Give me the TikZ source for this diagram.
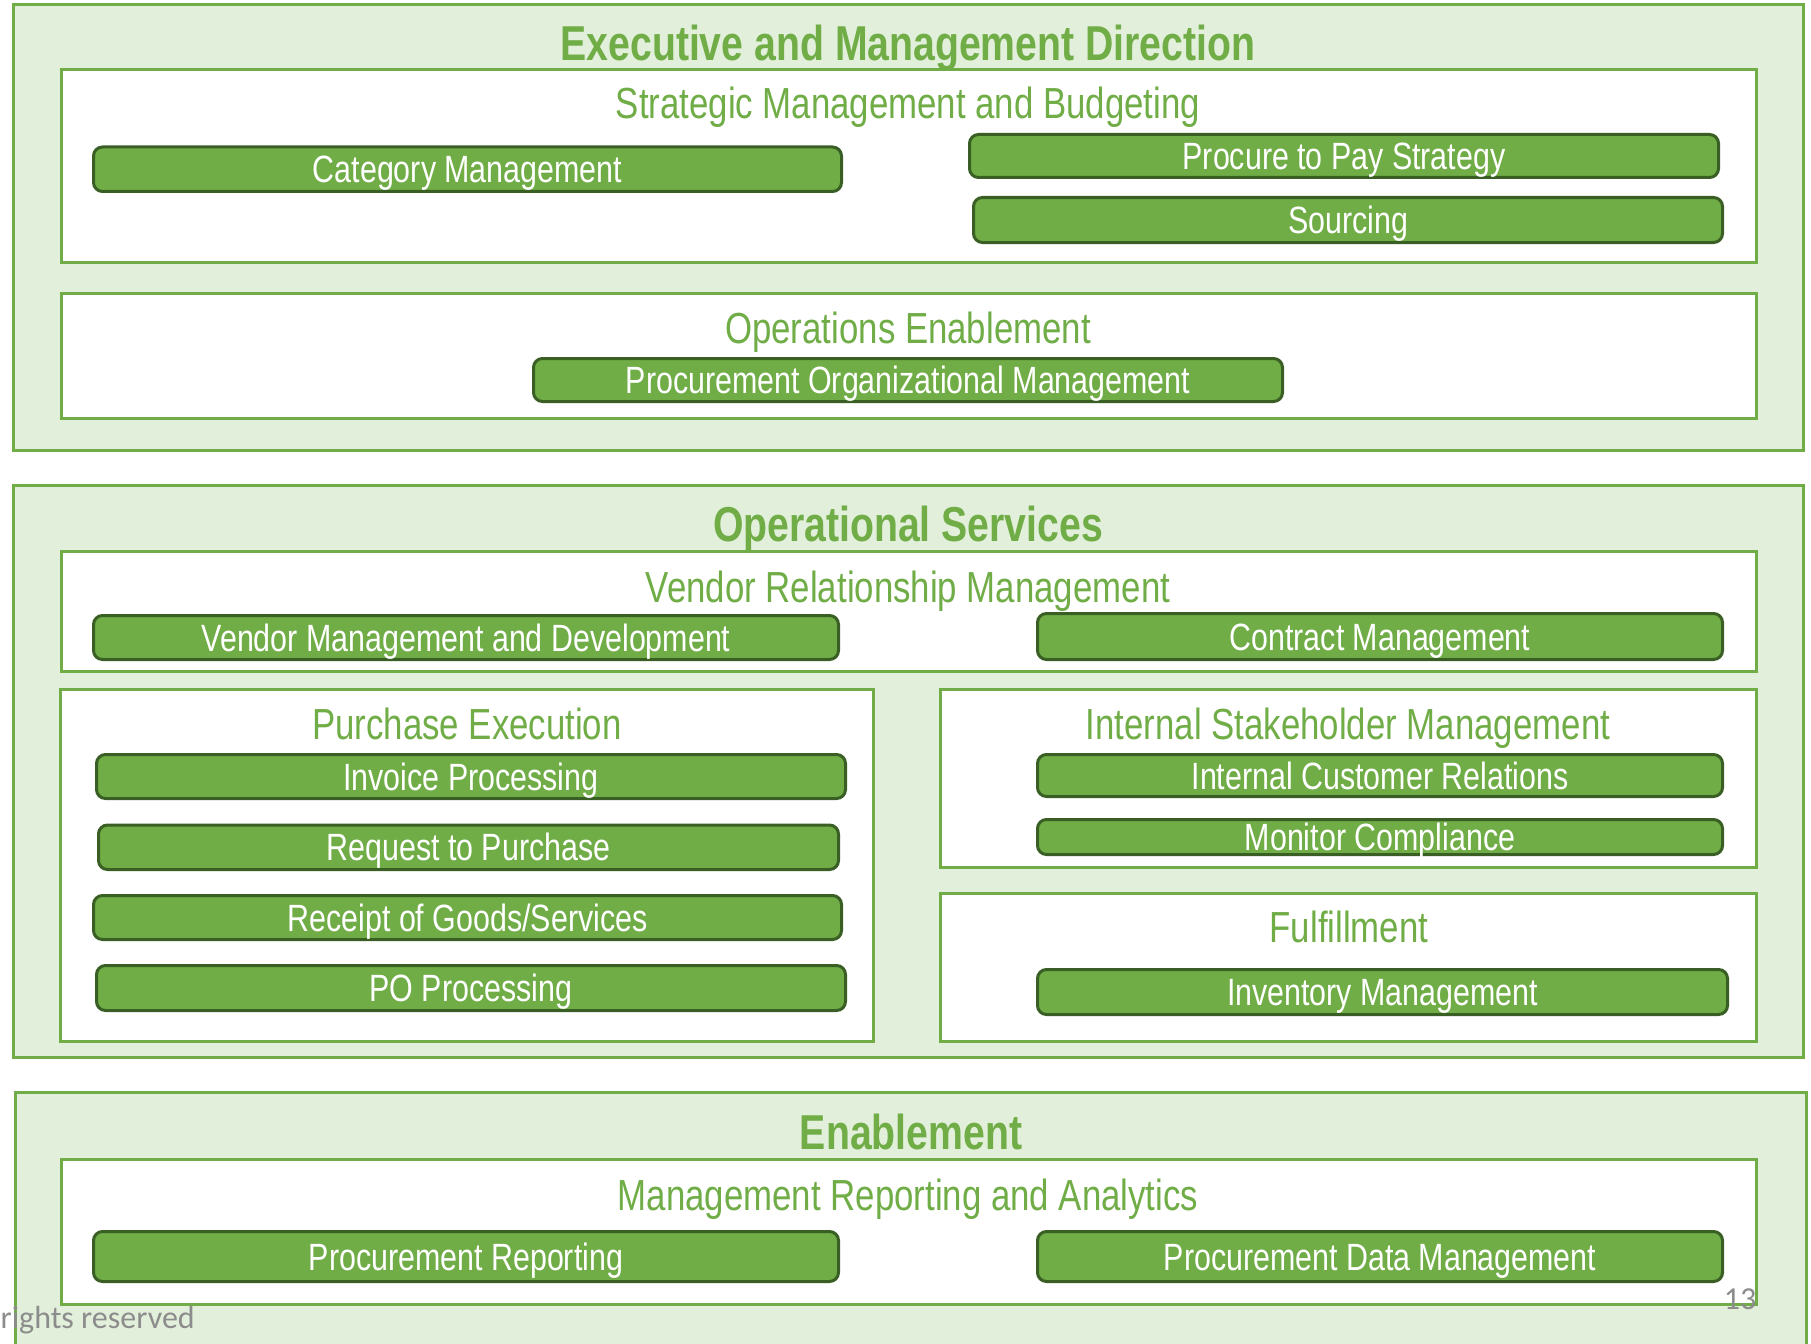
\documentclass[tikz,border=0pt]{standalone}
\usepackage{fontspec}
\newfontfamily\narrow[FakeStretch=0.80]{Liberation Sans}
\newfontfamily\notefont{Carlito}
\definecolor{accent}{HTML}{70AD47}
\definecolor{pale}{HTML}{E2EFDA}
\definecolor{edge}{HTML}{3A5F24}
\definecolor{note}{HTML}{8C8C8C}
\tikzset{
  band/.style={draw=accent, fill=pale, line width=3pt},
  panel/.style={draw=accent, fill=white, line width=3pt},
  task/.style={draw=edge, fill=accent, line width=3pt, rounded corners=9pt,
    text=white, font=\narrow\fontsize{38}{42}\selectfont,
    text height=27pt, text depth=0pt, inner sep=0pt},
  heading/.style={text=accent, anchor=base, inner sep=0pt,
    font=\narrow\fontsize{43.5}{48}\selectfont},
  bandtitle/.style={text=accent, anchor=base, inner sep=0pt,
    font=\narrow\bfseries\fontsize{49}{53}\selectfont},
  footnote/.style={text=note, anchor=base, inner sep=0pt,
    font=\notefont\fontsize{32}{35}\selectfont}
}
% task box from its corners: name, x1, y1, x2, y2, label
\newcommand\taskbox[6]{%
  \node[task, minimum width={#4-#2}, minimum height={#5-#3}]
    (#1) at ({(#2+#4)/2},{(#3+#5)/2}) {#6};}
\begin{document}
\begin{tikzpicture}[x=1pt,y=-1pt]
\useasboundingbox (0,0) rectangle (1811,1343);

% ---- Executive and Management Direction ----
\path[band] (13,5) rectangle (1803,450);
\node[bandtitle] (t1) at (908,61) {Executive and Management Direction};
\path[panel] (61.5,69.5) rectangle (1756,262);
\node[heading] (h11) at (908,119) {Strategic Management and Budgeting};
\taskbox{cat}{93.5}{147}{841.5}{191.5}{Category Management}
\taskbox{p2p}{969.5}{134.5}{1718.5}{177.5}{Procure to Pay Strategy}
\taskbox{src}{973.5}{197.5}{1722.5}{242.5}{Sourcing}
\path[panel] (61.5,293.5) rectangle (1756,418);
\node[heading] (h12) at (908,343) {Operations Enablement};
\taskbox{pom}{533.5}{358.5}{1282.5}{401.5}{Procurement Organizational Management}

% ---- Operational Services ----
\path[band] (13,485.5) rectangle (1803,1057.5);
\node[bandtitle] (t2) at (908,541) {Operational Services};
\path[panel] (61.5,551.5) rectangle (1756,671.5);
\node[heading] (h21) at (908,602) {Vendor Relationship Management};
\taskbox{vmd}{93.5}{615.5}{838.5}{659.5}{Vendor Management and Development}
\taskbox{con}{1037.5}{613.5}{1722.5}{659.5}{Contract Management}

\path[panel] (60.5,689.5) rectangle (873.5,1041.5);
\node[heading] (h22) at (467,739) {Purchase Execution};
\taskbox{inv}{96.5}{754.5}{845.5}{798.5}{Invoice Processing}
\taskbox{req}{98.5}{825}{838.5}{869.5}{Request to Purchase}
\taskbox{rcp}{93.5}{895.5}{841.5}{939.5}{Receipt of Goods/Services}
\taskbox{po}{96.5}{965.5}{845.5}{1010.5}{PO Processing}

\path[panel] (940.5,689.5) rectangle (1756,867.5);
\node[heading] (h23) at (1348,739) {Internal Stakeholder Management};
\taskbox{icr}{1037.5}{754.5}{1722.5}{796.5}{Internal Customer Relations}
\taskbox{mon}{1037.5}{819.5}{1722.5}{854.5}{Monitor Compliance}

\path[panel] (940.5,893.5) rectangle (1756,1041.5);
\node[heading] (h24) at (1349,942) {Fulfillment};
\taskbox{stock}{1037.5}{969.5}{1727.5}{1014.5}{Inventory Management}

% ---- Enablement ----
\path[band] (15.5,1092.5) rectangle (1806.5,1360);
\node[bandtitle] (t3) at (911,1149) {Enablement};
\path[panel] (61.5,1159.5) rectangle (1756,1304.5);
\node[heading] (h31) at (908,1210) {Management Reporting and Analytics};
\taskbox{rep}{93.5}{1231.5}{838.5}{1281.5}{Procurement Reporting}
\taskbox{pdm}{1037.5}{1231.5}{1722.5}{1281.5}{Procurement Data Management}

% ---- page footer ----
\node[footnote, anchor=base west] (rights) at (0.5,1328) {rights reserved};
\node[footnote] (page) at (1740,1309) {13};
\end{tikzpicture}
\end{document}
